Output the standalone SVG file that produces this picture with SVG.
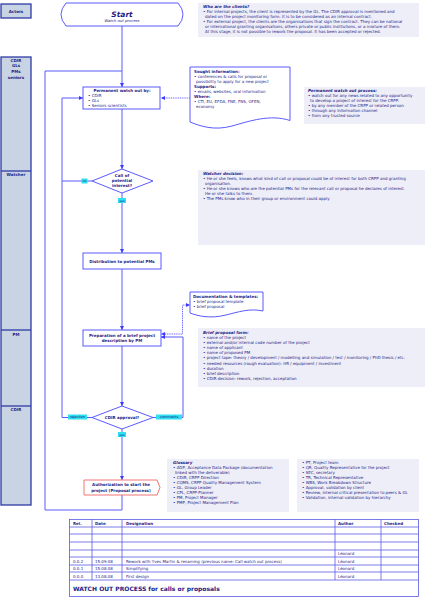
<svg xmlns="http://www.w3.org/2000/svg" width="426" height="599" viewBox="0 0 426 599">
<style>
text{font-family:"DejaVu Sans","Verdana",sans-serif;fill:#1c1c86;font-size:4px}
.b{font-weight:bold}
.bi{font-weight:bold;font-style:italic}
.c{text-anchor:middle}
.lane{fill:#c8d4e4;stroke:#2e3aa6;stroke-width:1.3}
.box{fill:#fff;stroke:#5a5aff;stroke-width:1}
.note{fill:#eeeef8;stroke:none}
.ln{fill:none;stroke:#5a5aff;stroke-width:1}
.dot{fill:none;stroke:#5a5aff;stroke-width:1;stroke-dasharray:1 0.8}
.lbl{fill:#2fe0f0}
.tb{fill:none;stroke:#5a5ae6;stroke-width:0.8}
</style>
<defs>
<marker id="ah" viewBox="0 0 6 6" refX="6" refY="3" markerWidth="4" markerHeight="4" orient="auto" markerUnits="userSpaceOnUse">
<path d="M0,0 L6,3 L0,6 Z" fill="#3a3aff"/>
</marker>
</defs>
<rect width="426" height="599" fill="#fff"/>

<!-- lanes -->
<g id="lanes">
<rect class="lane" x="1" y="4" width="30" height="14"/>
<text class="b c" x="16" y="12.5">Actors</text>
<rect class="lane" x="1" y="57" width="30" height="448"/>
<line x1="1" y1="171" x2="31" y2="171" stroke="#2e3aa6" stroke-width="1.3"/>
<line x1="1" y1="330" x2="31" y2="330" stroke="#2e3aa6" stroke-width="1.3"/>
<line x1="1" y1="406" x2="31" y2="406" stroke="#2e3aa6" stroke-width="1.3"/>
<text class="b c" x="16" y="61.5">CDIR</text>
<text class="b c" x="16" y="67">GLs</text>
<text class="b c" x="16" y="72.5">PMs</text>
<text class="b c" x="16" y="78.5">seniors</text>
<text class="b c" x="16" y="175.5">Watcher</text>
<text class="b c" x="16" y="335.5">PM</text>
<text class="b c" x="16" y="411">CDIR</text>
</g>

<!-- connectors -->
<g id="connectors">
<path class="ln" d="M122,26 V87" marker-end="url(#ah)"/>
<path class="ln" d="M122,495 V510 H45 V71 H122"/>
<path class="ln" d="M122,109 V169" marker-end="url(#ah)"/>
<path class="ln" d="M92,181 H62 V98 H83" marker-end="url(#ah)"/>
<path class="ln" d="M122,193 V253" marker-end="url(#ah)"/>
<path class="ln" d="M122,269 V330" marker-end="url(#ah)"/>
<path class="ln" d="M122,346 V406" marker-end="url(#ah)"/>
<path class="ln" d="M92,417.5 H62 V181"/>
<path class="ln" d="M153,417.5 H183 V337 H161" marker-end="url(#ah)"/>
<path class="ln" d="M122,429 V480" marker-end="url(#ah)"/>
<path class="dot" d="M190,98 H161" marker-end="url(#ah)"/>
<path class="dot" d="M165,334 H182.5 V305 H190" marker-end="url(#ah)"/>
<path d="M165,332 L161,334 L165,336 Z" fill="#3a3aff"/>
<rect class="lbl" x="81.5" y="178.5" width="6" height="5"/>
<text x="84.5" y="182.3" class="c" style="font-size:3.2px">no</text>
<rect class="lbl" x="118" y="198" width="8" height="5"/>
<text x="122" y="201.8" class="c" style="font-size:3.2px">yes</text>
<rect class="lbl" x="68" y="414.5" width="19" height="5"/>
<text x="77.5" y="418.3" class="c" style="font-size:3.5px">rejection</text>
<rect class="lbl" x="156" y="414.5" width="26" height="5"/>
<text x="169" y="418.3" class="c" style="font-size:3.5px">comments</text>
<rect class="lbl" x="118" y="432" width="8" height="5"/>
<text x="122" y="435.8" class="c" style="font-size:3.2px">yes</text>
</g>

<!-- Start -->
<g id="start">
<path d="M66,3 L178,3 Q188,14.5 178,26 L66,26 Q56,14.5 66,3 Z" class="box"/>
<text class="bi c" x="122" y="17" style="font-size:7.5px">Start</text>
<text class="c" x="122" y="21.5" style="font-style:italic;font-size:3.8px">Watch out process</text>
</g>

<g id="note-clients">
<rect class="note" x="198" y="3" width="221" height="34"/>
<text class="bi" x="203" y="7.5">Who are the clients?</text>
<text x="203" y="12.5">• For internal projects, the client is represented by the GL. The CDIR approval is mentioned and</text>
<text x="205" y="17.5">dated on the project monitoring form. It is to be considered as an internal contract.</text>
<text x="203" y="22.5">• For external project, the clients are the organisations that sign the contract. They can be national</text>
<text x="205" y="27.5">or international granting organisations, others private or public institutions, or a mixture of them.</text>
<text x="205" y="32.5">At this stage, it is not possible to rework the proposal. It has been accepted or rejected.</text>
</g>

<g id="permanent">
<rect class="box" x="83" y="87" width="77" height="22"/>
<text class="b c" x="122" y="92">Permanent watch out by:</text>
<text x="88" y="97">• CDIR</text>
<text x="88" y="102">• GLs</text>
<text x="88" y="107">• Seniors scientists</text>
</g>

<g id="sought">
<path class="box" d="M190,67 H290 V120.5 C270,114 250,121 232,126 C214,131 200,126 190,122 Z"/>
<text class="b" x="194" y="73">Sought information:</text>
<text x="194" y="78">• conferences &amp; calls for proposal or</text>
<text x="196" y="83">possibility to apply for a new project</text>
<text class="b" x="194" y="88">Supports:</text>
<text x="194" y="93">• emails, websites, oral information</text>
<text class="b" x="194" y="98">Where:</text>
<text x="194" y="103">• CTI, EU, EFDA, FNE, FNS, OFEN,</text>
<text x="196" y="108">economy</text>
</g>

<g id="note-permanent">
<rect class="note" x="304" y="87" width="121" height="37"/>
<text class="bi" x="308" y="91.5">Permanent watch out process:</text>
<text x="308" y="96.5">• watch out for any news related to any opportunity</text>
<text x="310" y="101.5">to develop a project of interest for the CRPP.</text>
<text x="308" y="106.5">• by any member of the CRPP or related person</text>
<text x="308" y="111.5">• through any information channel</text>
<text x="308" y="116.5">• from any trusted source</text>
</g>

<g id="call">
<path class="box" d="M122,169 L153,181 L122,193 L92,181 Z"/>
<text class="b c" x="122" y="177">Call of</text>
<text class="b c" x="122" y="182">potential</text>
<text class="b c" x="122" y="187">interest?</text>
</g>

<g id="note-watcher">
<rect class="note" x="198" y="170" width="227" height="75"/>
<text class="bi" x="203" y="175">Watcher decision:</text>
<text x="203" y="180">• He or she feels, knows what kind of call or proposal could be of interest for both CRPP and granting</text>
<text x="205" y="185">organisation.</text>
<text x="203" y="190">• He or she knows who are the potential PMs for the relevant call or proposal he declares of interest.</text>
<text x="205" y="195">He or she talks to them.</text>
<text x="203" y="200">• The PMs know who in their group or environment could apply</text>
</g>

<g id="distribution">
<rect class="box" x="83" y="253" width="78" height="16"/>
<text class="b c" x="122" y="262.5">Distribution to potential PMs</text>
</g>

<g id="doc-templates">
<path class="box" d="M190,292 H263 V311 C250,308 238,312 226,315 C210,319 198,316 190,313 Z"/>
<text class="b" x="193" y="297.5">Documentation &amp; templates:</text>
<text x="193" y="302.5">• brief proposal template</text>
<text x="193" y="307.5">• brief proposal</text>
</g>

<g id="preparation">
<rect class="box" x="83" y="330" width="78" height="16"/>
<text class="b c" x="122" y="336.5">Preparation of a brief project</text>
<text class="b c" x="122" y="342">description by PM</text>
</g>

<g id="note-form">
<rect class="note" x="198" y="328" width="227" height="59"/>
<text class="bi" x="203" y="333.5">Brief proposal form:</text>
<text x="203" y="338.5">• name of the project</text>
<text x="203" y="343.7">• external and/or internal code number of the project</text>
<text x="203" y="348.9">• name of applicant</text>
<text x="203" y="354.1">• name of proposed PM</text>
<text x="203" y="359.3">• project tape: theory / development / modelling and simulation / test / monitoring / PhD thesis / etc.</text>
<text x="203" y="364.5">• needed resources (rough evaluation): HR / equipment / investment</text>
<text x="203" y="369.7">• duration</text>
<text x="203" y="374.9">• brief description</text>
<text x="203" y="380.1">• CDIR decision: rework, rejection, acceptation</text>
</g>

<g id="approval">
<path class="box" d="M122,406 L153,417.5 L122,429 L92,417.5 Z"/>
<text class="b c" x="122" y="419">CDIR approval?</text>
</g>

<g id="authorization">
<path d="M84,480 H157 L160,487.5 L157,495 H84 Z" fill="#fff" stroke="#f07474" stroke-width="1"/>
<text class="b c" x="121" y="486">Authorization to start the</text>
<text class="b c" x="121" y="491.5">project (Proposal process)</text>
</g>

<g id="glossary">
<rect class="note" x="167" y="459" width="122" height="53"/>
<text class="bi" x="173" y="464">Glossary</text>
<text x="173" y="469">• ADP, Acceptance Data Package (documentation</text>
<text x="175" y="474">linked with the deliverable)</text>
<text x="173" y="479">• CDIR, CRPP Direction</text>
<text x="173" y="484">• CQMS, CRPP Quality Management System</text>
<text x="173" y="489">• GL, Group Leader</text>
<text x="173" y="494">• CPL, CRPP-Planner</text>
<text x="173" y="499">• PM, Project Manager</text>
<text x="173" y="504">• PMP, Project Management  Plan</text>
<rect class="note" x="297" y="459" width="122" height="53"/>
<text x="302" y="464">• PT, Project team</text>
<text x="302" y="469">• QR, Quality Representative for the project</text>
<text x="302" y="474">• SEC, secretary</text>
<text x="302" y="479">• TR, Technical Representative</text>
<text x="302" y="484">• WBS, Work Breakdown Structure</text>
<text x="302" y="489">• Approval, validation by client</text>
<text x="302" y="494">• Review, internal critical presentation to peers &amp; GL</text>
<text x="302" y="499">• Validation, internal validation by hierarchy</text>
</g>

<g id="table">
<rect class="tb" x="69.5" y="519.5" width="349" height="77" stroke-width="1"/>
<path class="tb" d="M69.5,527 H418.5 M69.5,534 H418.5 M69.5,542 H418.5 M69.5,550 H418.5 M69.5,557 H418.5 M69.5,565 H418.5 M69.5,572 H418.5 M69.5,580 H418.5"/>
<path class="tb" d="M92,519.5 V580 M122,519.5 V580 M335,519.5 V580 M381,519.5 V580"/>
<text class="b" x="73" y="524.5">Rel.</text>
<text class="b" x="95" y="524.5">Date</text>
<text class="b" x="126" y="524.5">Designation</text>
<text class="b" x="338" y="524.5">Author</text>
<text class="b" x="384" y="524.5">Checked</text>
<text x="338" y="555">Léonard</text>
<text x="73" y="562.5">0.0.2</text><text x="95" y="562.5">15.09.08</text><text x="126" y="562.5">Rework with Yves Martin &amp; renaming (previous name: Call watch out process)</text><text x="338" y="562.5">Léonard</text>
<text x="73" y="570">0.0.1</text><text x="95" y="570">15.08.08</text><text x="126" y="570">Simplifying</text><text x="338" y="570">Léonard</text>
<text x="73" y="577.5">0.0.0</text><text x="95" y="577.5">13.08.08</text><text x="126" y="577.5">First design</text><text x="338" y="577.5">Léonard</text>
<text class="b" x="73" y="590.5" style="font-size:6px">WATCH OUT PROCESS for calls or proposals</text>
</g>
</svg>
